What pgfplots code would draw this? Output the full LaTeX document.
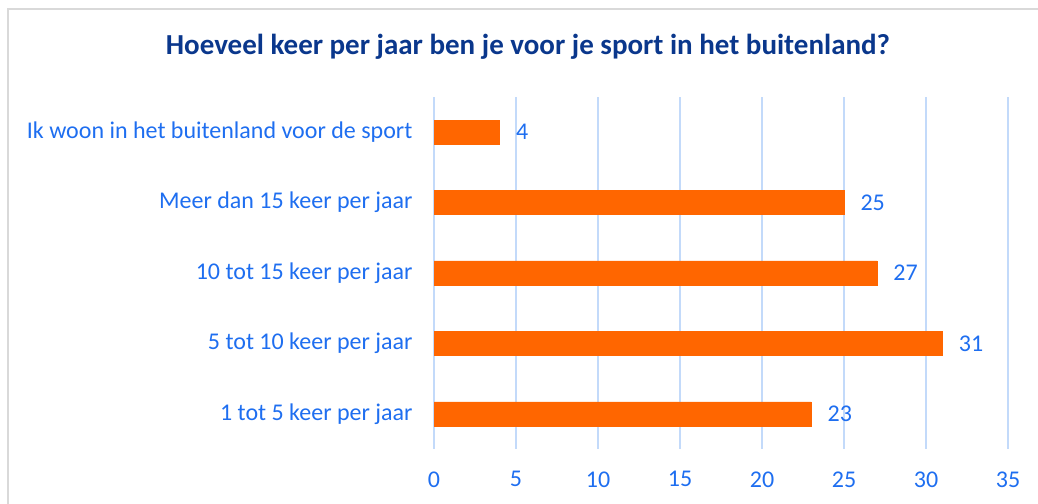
\documentclass[border=0pt]{standalone}
\usepackage{pgfplots}
\pgfplotsset{compat=1.18}
\usepackage{fontspec}
\setmainfont{Carlito}
\definecolor{ttl}{RGB}{10,55,140}
\definecolor{lbl}{RGB}{30,110,240}
\definecolor{bar}{RGB}{255,102,0}
\definecolor{grd}{RGB}{195,218,250}
\definecolor{frm}{RGB}{217,217,217}
\begin{document}
\begin{tikzpicture}
\path[use as bounding box] (0pt,0pt) rectangle (1038pt,503pt);
\draw[frm,line width=1.5pt] (8pt,-5pt) -- (8pt,494pt) -- (1045pt,494pt);
\node[ttl,font=\fontsize{29}{33}\selectfont\bfseries] at (528pt,456pt) {Hoeveel keer per jaar ben je voor je sport in het buitenland?};
\begin{axis}[
  at={(434pt,54pt)}, anchor=south west,
  scale only axis, width=574pt, height=352pt,
  xbar, bar width=24pt,
  xmin=0, xmax=35, ymin=-0.5, ymax=4.5,
  xtick={0,5,...,35},
  ytick={0,1,2,3,4},
  yticklabels={1 tot 5 keer per jaar,5 tot 10 keer per jaar,10 tot 15 keer per jaar,Meer dan 15 keer per jaar,Ik woon in het buitenland voor de sport},
  xmajorgrids, grid style={draw=grd,line width=1.3pt},
  axis line style={draw=none},
  major tick length=0pt,
  tick label style={lbl,font=\fontsize{24}{28}\selectfont},
  /pgf/number format/assume math mode=true,
  xticklabel style={yshift=-19pt},
  yticklabel style={xshift=-18pt},
  nodes near coords,
  nodes near coords style={lbl,font=\fontsize{24}{28}\selectfont,xshift=13pt},
  clip=false,
]
\addplot[fill=bar,draw=bar] coordinates {(23,0) (31,1) (27,2) (25,3) (4,4)};
\end{axis}
\end{tikzpicture}
\end{document}
